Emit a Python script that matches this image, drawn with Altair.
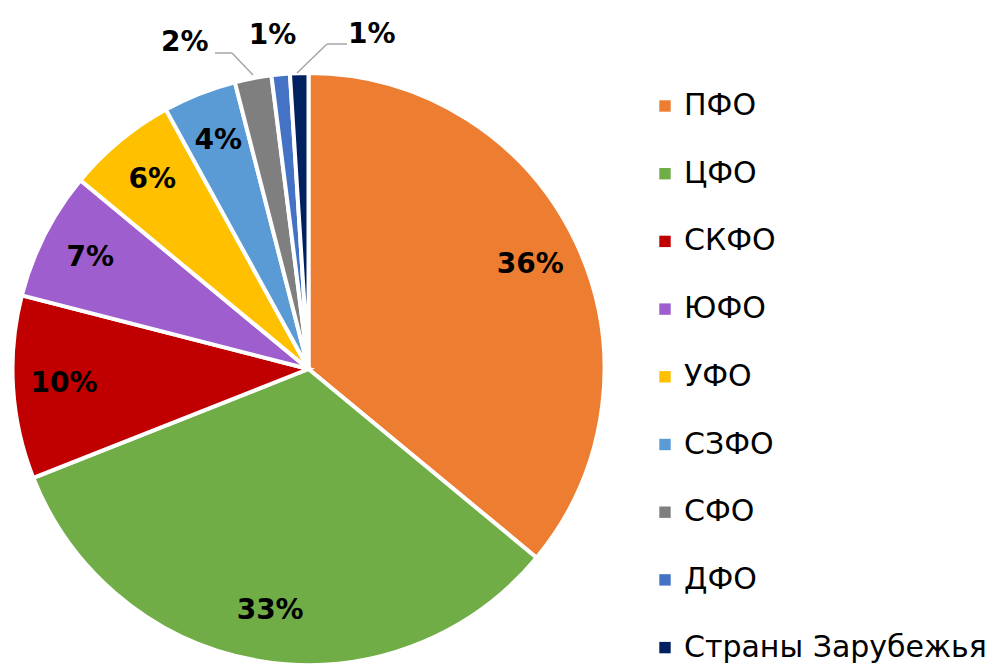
import altair as alt
import pandas as pd

regions = ["ПФО", "ЦФО", "СКФО", "ЮФО", "УФО", "СЗФО", "СФО", "ДФО", "Страны Зарубежья"]
shares = [36, 33, 10, 7, 6, 4, 2, 1, 1]
colors = ["#ED7D31", "#70AD47", "#C00000", "#9E5ECE", "#FFC000",
          "#5B9BD5", "#7F7F7F", "#4472C4", "#002060"]

df = pd.DataFrame({"region": regions, "share": shares, "i": list(range(len(regions)))})
df["label"] = df["share"].astype(str) + "%"

CX, CY, R = 300.5, 361, 296
FONT = "DejaVu Sans"

base = alt.Chart(df).encode(
    theta=alt.Theta("share:Q", stack=True),
    order=alt.Order("i:Q"),
    x=alt.value(CX),
    y=alt.value(CY),
)

pie = base.mark_arc(outerRadius=R, stroke="white", strokeWidth=4).encode(
    color=alt.Color(
        "region:N",
        sort=regions,
        scale=alt.Scale(domain=regions, range=colors),
        legend=alt.Legend(
            title=None,
            orient="none",
            legendX=642,
            legendY=83,
            symbolType="square",
            symbolSize=130,
            symbolStrokeWidth=0,
            labelFont=FONT,
            labelFontSize=30,
            labelColor="#000000",
            labelOffset=4,
            rowPadding=37.7,
            labelLimit=400,
        ),
    )
)

inner_labels = base.transform_filter("datum.share >= 4").mark_text(
    radius=245, font=FONT, fontSize=28, fontWeight="bold", color="#000000"
).encode(text="label:N")


def outer_label(idx, dx, dy):
    return base.mark_text(
        radius=340, dx=dx, dy=dy, font=FONT, fontSize=28, fontWeight="bold", color="#000000"
    ).encode(
        text=alt.condition(f"datum.i == {idx}", "label:N", alt.value(""))
    )


small_labels = [outer_label(6, -60, 8), outer_label(7, -4, 5), outer_label(8, 74, 6)]

lead = pd.DataFrame({"k": [0]})
gray = "#A6A6A6"
leaders = [
    alt.Chart(lead).mark_rule(color=gray, strokeWidth=1.5).encode(
        x=alt.value(x1), y=alt.value(y1), x2=alt.value(x2), y2=alt.value(y2)
    )
    for (x1, y1, x2, y2) in [
        (207, 45, 224, 45),
        (224, 45, 245, 67),
        (289, 65, 319, 36),
        (319, 36, 339, 36),
    ]
]

chart = alt.layer(pie, inner_labels, *small_labels, *leaders).properties(
    width=987,
    height=656,
    padding=0,
    autosize=alt.AutoSizeParams(type="none"),
).configure_view(stroke=None)

chart.save("out.html", embed_options={"renderer": "svg", "actions": False})
